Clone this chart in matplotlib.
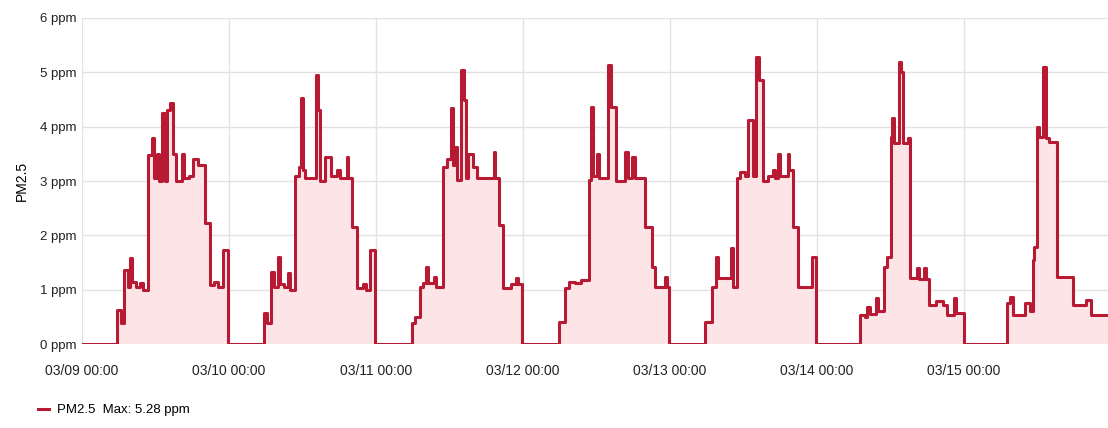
import matplotlib
matplotlib.use('Agg')
import matplotlib.pyplot as plt
import matplotlib.dates as mdates
import pandas as pd

plt.rcParams['font.family'] = ['Liberation Sans', 'DejaVu Sans']

# change points of the PM2.5 step series: hours since 03/09 00:00 and reading in ppm
hours = [
    0, 5.7, 6.3, 6.9, 7.5, 7.8, 8.2, 8.8, 9.5, 10.0, 10.8, 11.4, 11.8, 12.2, 12.6, 13.1, 13.5,
    13.9, 14.3, 14.9, 15.4, 16.3, 16.7, 17.5, 18.2, 18.9, 20.1, 20.9, 21.5, 22.2, 23.1, 23.8,
    29.7, 30.2, 30.8, 31.3, 32.0, 32.4, 33.0, 33.6, 34.0, 34.8, 35.4, 35.8, 36.1, 36.4, 38.2,
    38.6, 38.9, 39.7, 40.6, 41.6, 42.2, 43.2, 43.5, 44.0, 44.9, 45.8, 46.4, 47.0, 47.8,
    53.8, 54.4, 55.1, 55.6, 56.1, 56.5, 57.4, 57.8, 59.0, 59.6, 60.2, 60.6, 60.9, 61.3, 61.9,
    62.3, 62.7, 63.0, 63.8, 64.5, 67.2, 67.5, 68.0, 68.8, 70.0, 70.8, 71.2, 71.9,
    77.9, 78.9, 79.5, 80.5, 81.5, 82.7, 83.1, 83.4, 84.0, 84.4, 85.9, 86.4, 87.1, 88.7, 89.1,
    89.8, 90.2, 91.9, 93.0, 93.5, 95.1, 95.5, 95.9,
    101.7, 102.8, 103.5, 103.9, 105.9, 106.3, 106.9, 107.4, 108.3, 108.8, 109.5, 110.1, 110.5,
    111.1, 112.0, 112.8, 113.2, 113.6, 114.0, 115.2, 115.5, 116.0, 116.9, 119.1, 119.9,
    127.0, 127.8, 128.2, 128.6, 129.6, 130.0, 130.9, 131.5, 132.0, 132.3, 132.6, 133.3, 133.7,
    134.0, 134.8, 135.2, 136.4, 136.7, 137.5, 137.8, 138.2, 139.5, 140.6, 141.2, 142.4, 142.7,
    144.0,
    151.0, 151.5, 152.0, 154.0, 154.8, 155.2, 155.5, 155.9, 156.2, 156.9, 157.3, 157.8, 159.1,
    161.8, 163.9, 164.8, 167.5,
]
pm25 = [
    0, 0.63, 0.39, 1.36, 1.05, 1.58, 1.15, 1.05, 1.12, 1.0, 3.48, 3.79, 3.05, 3.5, 3.0, 4.25, 3.0,
    4.3, 4.43, 3.5, 3.0, 3.5, 3.05, 3.1, 3.4, 3.3, 2.22, 1.08, 1.15, 1.05, 1.73, 0,
    0.57, 0.39, 1.32, 1.05, 1.6, 1.1, 1.05, 1.3, 1.0, 3.1, 3.26, 4.52, 3.2, 3.05, 4.95,
    4.3, 3.0, 3.45, 3.1, 3.2, 3.05, 3.45, 3.05, 2.16, 1.03, 1.1, 1.0, 1.73, 0,
    0.39, 0.5, 1.05, 1.12, 1.42, 1.12, 1.23, 1.05, 3.26, 3.4, 4.34, 3.3, 3.63, 3.02, 5.04,
    4.5, 3.05, 3.5, 3.26, 3.05, 3.53, 3.05, 2.19, 1.03, 1.1, 1.21, 1.1, 0,
    0.41, 1.03, 1.15, 1.12, 1.18, 3.02, 4.37, 3.1, 3.5, 3.05, 5.13, 4.37, 3.0, 3.53, 3.05,
    3.45, 3.05, 2.16, 1.42, 1.05, 1.23, 1.05, 0,
    0.41, 1.05, 1.6, 1.21, 1.77, 1.05, 3.05, 3.17, 3.1, 4.12, 3.1, 5.28, 4.86,
    3.0, 3.1, 3.2, 3.05, 3.5, 3.1, 3.5, 3.2, 2.16, 1.05, 1.6, 0,
    0.53, 0.5, 0.68, 0.55, 0.85, 0.6, 1.42, 1.6, 3.81, 4.16, 3.7, 5.19, 5.0,
    3.7, 3.79, 1.21, 1.4, 1.2, 1.4, 1.2, 0.72, 0.8, 0.72, 0.53, 0.85, 0.57,
    0,
    0.75, 0.87, 0.53, 0.75, 0.6, 1.55, 1.79, 4.0, 3.81, 5.1, 3.8, 3.72, 1.23,
    0.72, 0.81, 0.53, 0.53,
]
yticks = [0, 1, 2, 3, 4, 5, 6]
ytick_labels = ['0 ppm', '1 ppm', '2 ppm', '3 ppm', '4 ppm', '5 ppm', '6 ppm']

start = pd.Timestamp('2021-03-09 00:00')
times = start + pd.to_timedelta(hours, unit='h')

fig = plt.figure(figsize=(11.08, 4.28), dpi=100)
ax = fig.add_axes([0.074, 0.196, 0.926, 0.762])

ax.fill_between(times, pm25, step='post', color='#fde4e7', linewidth=0)
ax.step(times, pm25, where='post', color='#b81a33', linewidth=2.2, label='PM2.5  Max: 5.28 ppm')

ax.set_xlim(times[0], times[-1])
ax.set_ylim(0, 6)
ax.set_yticks(yticks)
ax.set_yticklabels(ytick_labels, fontsize=9.5)
ax.xaxis.set_major_locator(mdates.DayLocator())
ax.xaxis.set_major_formatter(mdates.DateFormatter('%m/%d %H:%M'))
ax.tick_params(length=0, labelsize=10, colors='#222222')
ax.tick_params(axis='y', labelsize=9.5, pad=4)
ax.tick_params(axis='x', pad=14)
ax.set_ylabel('PM2.5', fontsize=10, labelpad=8)
ax.grid(True, color='#e2e2e2', linewidth=1)
ax.set_axisbelow(True)
for s in ax.spines.values():
    s.set_visible(False)

fig.legend(loc='lower left', bbox_to_anchor=(0.024, 0.0), frameon=False, fontsize=9.5,
           handlelength=0.8, handletextpad=0.6)

fig.savefig('out.png', dpi=100)
